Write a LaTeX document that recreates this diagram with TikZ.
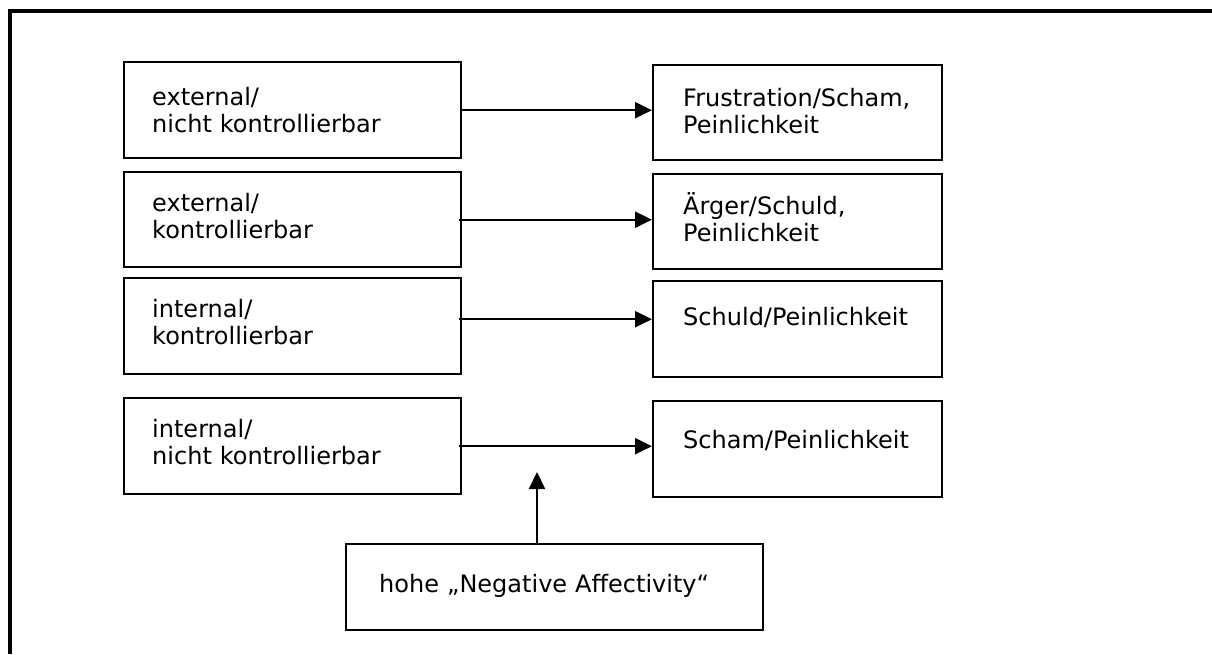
\documentclass[tikz,border=0pt]{standalone}
\usepackage{fontspec}
\setmainfont{DejaVu Sans}
\usetikzlibrary{arrows.meta}
\hyphenpenalty=10000
\exhyphenpenalty=10000
\begin{document}
\begin{tikzpicture}[x=1pt,y=-1pt,
  box/.style={draw, line width=2.4pt, anchor=north west, inner ysep=0pt,
    align=left, font=\fontsize{24}{27.5}\selectfont},
  causebox/.style={box, inner xsep=28pt, text width=281pt},
  emobox/.style={box, inner xsep=30pt, text width=229pt},
  traitbox/.style={box, inner xsep=33pt, text width=351pt},
  arr/.style={line width=2.2pt, -{Triangle[length=17pt,width=16pt]}}]

\useasboundingbox (0,0) rectangle (1212,654);

% frame: top and left rule
\draw[line width=4.5pt, line join=miter] (10,654) -- (10,11) -- (1212,11);

% attributions (left column)
\node[causebox, text height=43pt, text depth=53pt] (c1) at (123,61)
  {external/\\nicht kontrollierbar};
\node[causebox, text height=39pt, text depth=56pt] (c2) at (123,171)
  {external/\\kontrollierbar};
\node[causebox, text height=39pt, text depth=57pt] (c3) at (123,277)
  {internal/\\kontrollierbar};
\node[causebox, text height=39pt, text depth=57pt] (c4) at (123,397)
  {internal/\\nicht kontrollierbar};

% emotions (right column)
\node[emobox, text height=41pt, text depth=54pt] (e1) at (652,64)
  {Frustration/Scham,\\Peinlichkeit};
\node[emobox, text height=40pt, text depth=55pt] (e2) at (652,173)
  {Ärger/Schuld,\\Peinlichkeit};
\node[emobox, text height=44pt, text depth=52pt] (e3) at (652,280)
  {Schuld/Peinlichkeit};
\node[emobox, text height=47pt, text depth=49pt] (e4) at (652,400)
  {Scham/Peinlichkeit};

% moderator
\node[traitbox, text height=48pt, text depth=38pt] (na) at (345,543)
  {hohe „Negative Affectivity“};

% connectors
\draw[arr] (c1.east) -- (c1.east -| e1.west);
\draw[arr] ([xshift=-3pt]c2.east) -- (c2.east -| e2.west);
\draw[arr] ([xshift=-3pt,yshift=7pt]c3.east) -- ([yshift=7pt]c3.east -| e3.west);
\draw[arr] ([xshift=-3pt]c4.east) -- (c4.east -| e4.west);

\coordinate (natip) at (537,472);
\draw[arr] (natip |- na.north) -- (natip);
\end{tikzpicture}
\end{document}
